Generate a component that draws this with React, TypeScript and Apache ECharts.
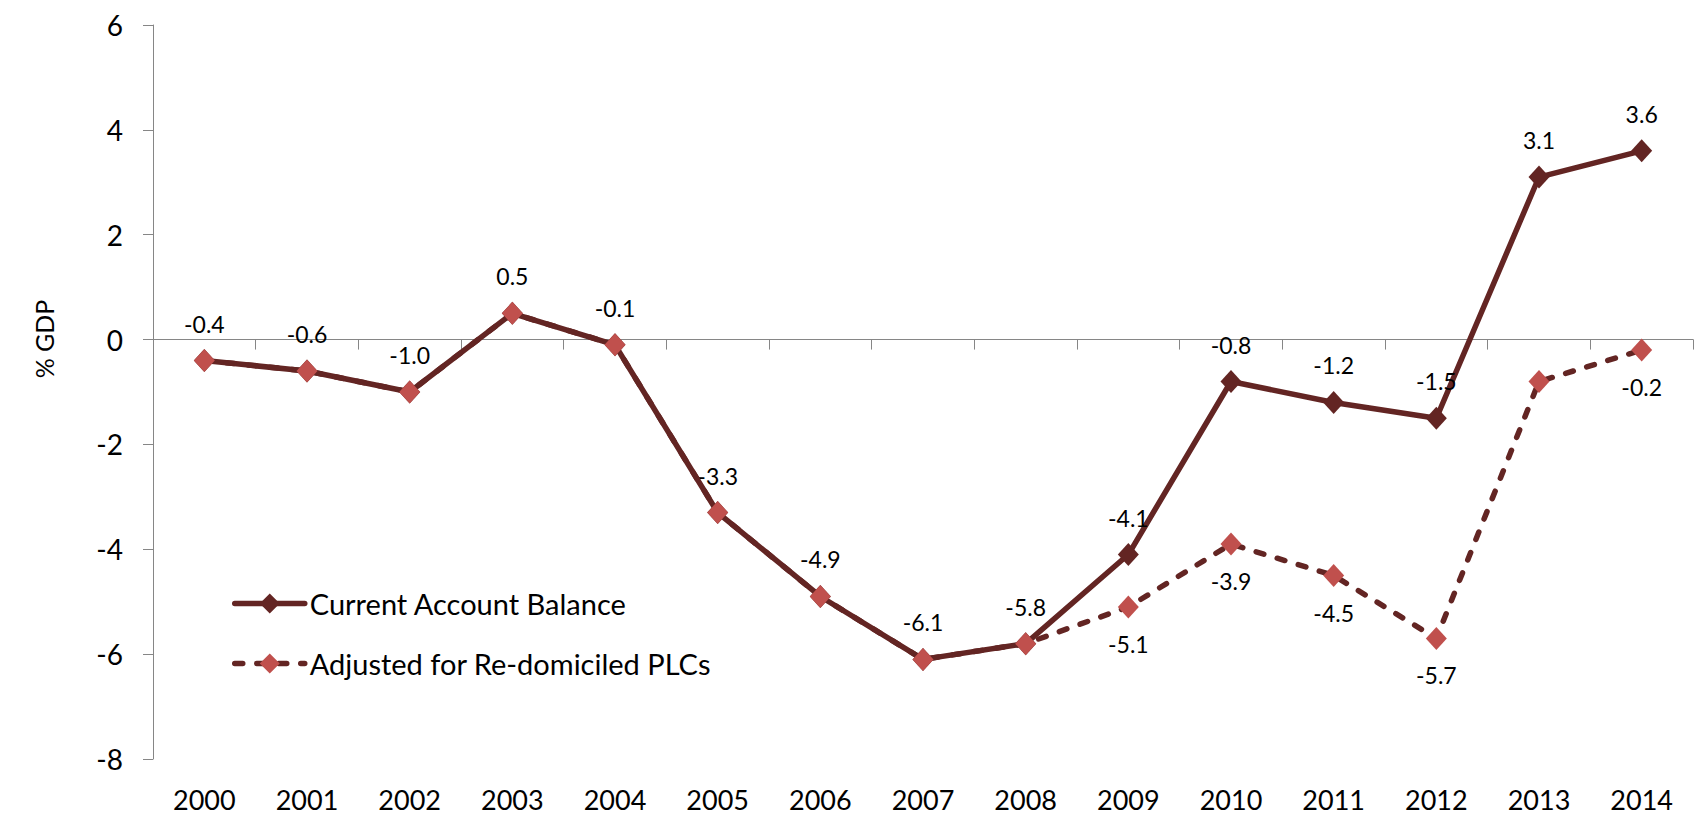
import React, { useEffect, useRef } from "react";
import * as echarts from "echarts";

// Ireland current account balance, % of GDP
const years = [
  "2000", "2001", "2002", "2003", "2004", "2005", "2006", "2007",
  "2008", "2009", "2010", "2011", "2012", "2013", "2014",
];
const currentAccount = [
  -0.4, -0.6, -1.0, 0.5, -0.1, -3.3, -4.9, -6.1, -5.8, -4.1, -0.8, -1.2, -1.5, 3.1, 3.6,
];
const adjustedForPLCs = [
  -0.4, -0.6, -1.0, 0.5, -0.1, -3.3, -4.9, -6.1, -5.8, -5.1, -3.9, -4.5, -5.7, -0.8, -0.2,
];
// years where the adjusted series carries its own value label
const adjustedLabelYears = ["2009", "2010", "2011", "2012", "2014"];
const yTicks = { min: -8, max: 6, interval: 2 };

const DARK = "#632523";
const RED = "#C0504D";
const AXIS = "#868686";
const FONT = "Lato, Carlito, 'Open Sans', sans-serif";
const DASH = [8, 14];

export default function App() {
  const ref = useRef<HTMLDivElement>(null);

  useEffect(() => {
    if (!ref.current) return;
    const chart = echarts.init(ref.current, undefined, { renderer: "svg" });
    const fmt = (p: any) => Number(p.value).toFixed(1);

    chart.setOption({
      animation: false,
      backgroundColor: "#fff",
      textStyle: { fontFamily: FONT, color: "#000" },
      grid: { left: 153, right: 7, top: 25, bottom: 63, outerBoundsMode: "none", containLabel: false },
      legend: {
        orient: "vertical",
        left: 227,
        top: 584,
        itemWidth: 70,
        itemHeight: 25,
        itemGap: 31,
        textStyle: { fontFamily: FONT, fontSize: 29, color: "#000" },
        data: [
          {
            name: "Current Account Balance",
            itemStyle: { color: DARK },
            lineStyle: { color: DARK, width: 5.5, cap: "round" },
          },
          {
            name: "Adjusted for Re-domiciled PLCs",
            itemStyle: { color: RED },
            lineStyle: { color: DARK, width: 5.5, type: DASH, cap: "round" },
          },
        ],
      },
      xAxis: {
        type: "category",
        data: years,
        boundaryGap: true,
        // line and ticks sit on zero; year labels stay along the bottom of the plot
        axisLine: { onZero: true, lineStyle: { color: AXIS, width: 1 } },
        axisTick: { show: true, length: 10, alignWithLabel: false, lineStyle: { color: AXIS } },
        axisLabel: { margin: 27, fontFamily: FONT, fontSize: 27, color: "#000" },
        splitLine: { show: false },
      },
      yAxis: {
        type: "value",
        min: yTicks.min,
        max: yTicks.max,
        interval: yTicks.interval,
        axisLine: { show: true, lineStyle: { color: AXIS, width: 1 } },
        axisTick: { show: true, length: 10, lineStyle: { color: AXIS } },
        axisLabel: { margin: 30, fontFamily: FONT, fontSize: 28, color: "#000" },
        splitLine: { show: false },
      },
      graphic: [
        {
          type: "text",
          x: 44,
          y: 339,
          rotation: Math.PI / 2,
          style: {
            text: "% GDP",
            fontFamily: FONT,
            fontSize: 25,
            fill: "#000",
            align: "center",
            verticalAlign: "middle",
          },
        },
      ],
      series: [
        {
          name: "Current Account Balance",
          type: "line",
          data: currentAccount,
          z: 2,
          symbol: "diamond",
          symbolSize: [21, 23],
          lineStyle: { color: DARK, width: 5.5 },
          itemStyle: { color: DARK },
          label: {
            show: true,
            position: "top",
            distance: 14,
            formatter: fmt,
            fontFamily: FONT,
            fontSize: 23,
            color: "#000",
          },
        },
        {
          name: "Adjusted for Re-domiciled PLCs",
          type: "line",
          z: 3,
          data: adjustedForPLCs.map((v, i) => ({
            value: v,
            label: { show: adjustedLabelYears.includes(years[i]) },
          })),
          symbol: "diamond",
          symbolSize: [21, 23],
          lineStyle: { color: DARK, width: 5.5, type: DASH, cap: "round" },
          itemStyle: { color: RED },
          label: {
            show: false,
            position: "bottom",
            distance: 14,
            formatter: fmt,
            fontFamily: FONT,
            fontSize: 23,
            color: "#000",
          },
        },
      ],
    });

    return () => chart.dispose();
  }, []);

  return (
    <div
      ref={ref}
      style={{ position: "fixed", left: 0, top: 0, width: 1700, height: 822, background: "#fff" }}
    />
  );
}
